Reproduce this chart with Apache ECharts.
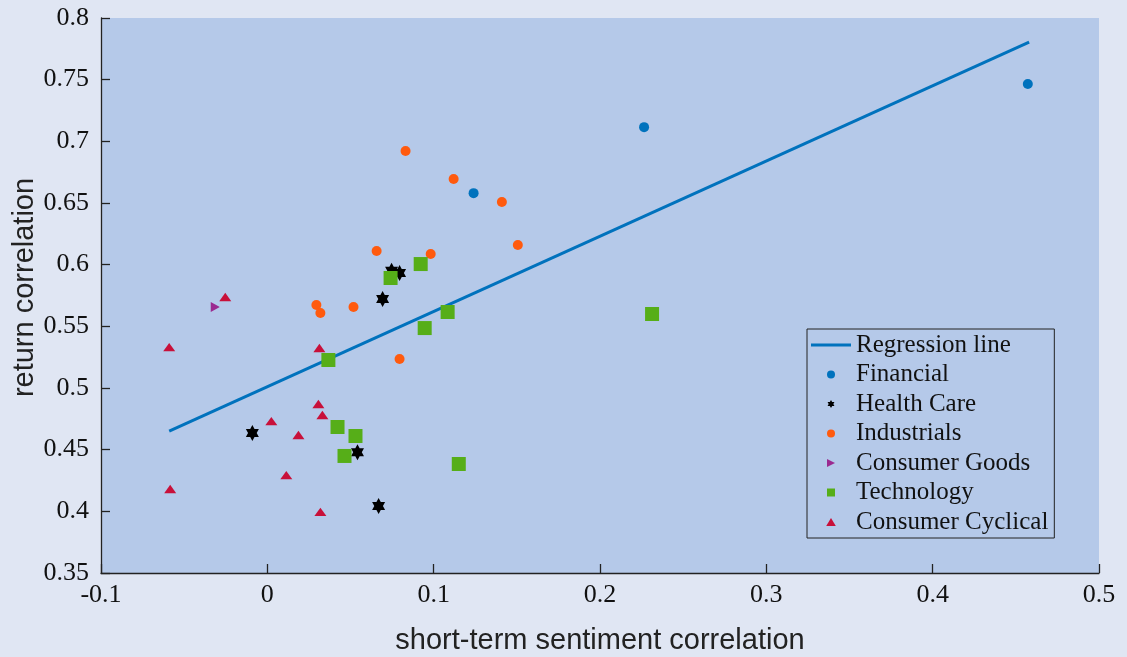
<!DOCTYPE html>
<html lang="en">
<head>
	<meta charset="UTF-8">
	<title>Sentiment vs return correlation</title>
	<style>
		html, body { margin: 0; padding: 0; background: #e0e6f3; }
	</style>
</head>
<body>
	<div id='main' style="width:1127px;height:657px;"></div>
</body>
<script type="text/javascript" src="https://cdn.jsdelivr.net/npm/echarts@6/dist/echarts.min.js"></script>
<script type="text/javascript">
// data: [sentiment corr, return corr]
var financial = [[0.124, 0.658], [0.2265, 0.7115], [0.4572, 0.7465]];
var healthCare = [[-0.009, 0.4635], [0.0542, 0.448], [0.0669, 0.4043], [0.0693, 0.5722], [0.0747, 0.595], [0.0795, 0.5932]];
var industrials = [[0.0831, 0.6922], [0.112, 0.6695], [0.141, 0.6508], [0.1506, 0.6159], [0.0982, 0.6086],
    [0.0657, 0.6111], [0.0295, 0.5673], [0.0319, 0.5608], [0.0518, 0.5657], [0.0795, 0.5235]];
var consumerGoods = [[-0.0313, 0.5657]];
var technology = [[0.0922, 0.6005], [0.0741, 0.5892], [0.1084, 0.5616], [0.0946, 0.5486], [0.0367, 0.5227],
    [0.0422, 0.4684], [0.053, 0.4611], [0.0464, 0.4449], [0.1151, 0.4384], [0.2313, 0.56]];
var consumerCyclical = [[-0.0253, 0.5738], [-0.059, 0.5332], [0.0313, 0.5324], [0.0307, 0.487], [0.0331, 0.4781],
    [0.0024, 0.4732], [0.0187, 0.4619], [0.0114, 0.4294], [-0.0584, 0.4181], [0.0319, 0.3995]];
var regression = [[-0.059, 0.465], [0.458, 0.7805]];

var xTicks = ['-0.1', '0', '0.1', '0.2', '0.3', '0.4', '0.5'];
var yTicks = ['0.35', '0.4', '0.45', '0.5', '0.55', '0.6', '0.65', '0.7', '0.75', '0.8'];

// marker shapes as paths so the legend keeps their aspect
var hexagram = 'path://M8.66 0L11.55 5L17.32 5L14.43 10L17.32 15L11.55 15L8.66 20L5.77 15L0 15L2.89 10L0 5L5.77 5Z';
var rightTri = 'path://M0 0L10 5L0 10Z';
var upTri = 'path://M6 0L12 10L0 10Z';
var square = 'path://M0 0L10 0L10 10L0 10Z';
var lineIcon = 'path://M0 0L40 0L40 3L0 3Z';

var serif = "'Liberation Serif', 'DejaVu Serif', serif";
var sans = "'Liberation Sans', Arial, sans-serif";

var option = {
    backgroundColor: '#e0e6f3',
    animation: false,
    grid: {
        left: 101, right: 28, top: 18, bottom: 84,
        outerBoundsMode: 'none',
        show: true, backgroundColor: '#b5c9e9', borderWidth: 0
    },
    legend: {
        orient: 'vertical',
        left: 807, top: 329,
        padding: [3, 6, 3, 4],
        backgroundColor: '#b5c9e9',
        borderColor: '#222', borderWidth: 1,
        itemWidth: 40, itemHeight: 8,
        itemGap: 3.5,
        itemTextGap: 3,
        symbolKeepAspect: true,
        textStyle: { fontFamily: serif, fontSize: 25, color: '#111', lineHeight: 26 },
        data: [
            { name: 'Regression line', icon: lineIcon },
            'Financial', 'Health Care', 'Industrials', 'Consumer Goods', 'Technology', 'Consumer Cyclical'
        ]
    },
    xAxis: {
        type: 'value', min: -0.1, max: 0.5, interval: 0.1,
        name: 'short-term sentiment correlation',
        nameLocation: 'middle', nameGap: 53, nameMoveOverlap: false,
        nameTextStyle: { fontFamily: sans, fontSize: 29, color: '#222' },
        axisLine: { show: true, onZero: false, lineStyle: { color: '#222', width: 1.3 } },
        axisTick: { show: true, inside: true, length: 9, lineStyle: { color: '#222', width: 1.3 } },
        axisLabel: {
            fontFamily: serif, fontSize: 26, color: '#111', margin: 9,
            formatter: function (v) { return xTicks[Math.round((v + 0.1) / 0.1)]; }
        },
        splitLine: { show: false }
    },
    yAxis: {
        type: 'value', min: 0.35, max: 0.8, interval: 0.05,
        name: 'return correlation',
        nameLocation: 'middle', nameGap: 62, nameMoveOverlap: false,
        nameTextStyle: { fontFamily: sans, fontSize: 29, color: '#222', padding: [0, 0, 0, 16] },
        axisLine: { show: true, onZero: false, lineStyle: { color: '#222', width: 1.3 } },
        axisTick: { show: true, inside: true, length: 9, lineStyle: { color: '#222', width: 1.3 } },
        axisLabel: {
            fontFamily: serif, fontSize: 26, color: '#111', margin: 12,
            formatter: function (v) { return yTicks[Math.round((v - 0.35) / 0.05)]; }
        },
        splitLine: { show: false }
    },
    series: [
        {
            name: 'Regression line', type: 'line', data: regression,
            symbol: 'none', lineStyle: { color: '#0072bd', width: 3 }, itemStyle: { color: '#0072bd' }, z: 1
        },
        {
            name: 'Financial', type: 'scatter', data: financial,
            symbol: 'circle', symbolSize: 10, itemStyle: { color: '#0072bd', opacity: 1 }
        },
        {
            name: 'Health Care', type: 'scatter', data: healthCare, symbolKeepAspect: true,
            symbol: hexagram, symbolSize: [15, 16], itemStyle: { color: '#000', opacity: 1 }
        },
        {
            name: 'Industrials', type: 'scatter', data: industrials,
            symbol: 'circle', symbolSize: 10, itemStyle: { color: '#ff5a0e', opacity: 1 }
        },
        {
            name: 'Consumer Goods', type: 'scatter', data: consumerGoods, symbolKeepAspect: true,
            symbol: rightTri, symbolSize: [9, 10], itemStyle: { color: '#9b2a90', opacity: 1 }
        },
        {
            name: 'Technology', type: 'scatter', data: technology, symbolKeepAspect: true,
            symbol: square, symbolSize: 14, itemStyle: { color: '#56ae18', opacity: 1 }
        },
        {
            name: 'Consumer Cyclical', type: 'scatter', data: consumerCyclical, symbolKeepAspect: true,
            symbol: upTri, symbolSize: [12, 10], itemStyle: { color: '#c8103a', opacity: 1 }
        }
    ]
};

var myChart = echarts.init(document.getElementById('main'));
myChart.setOption(option);
</script>
</html>
